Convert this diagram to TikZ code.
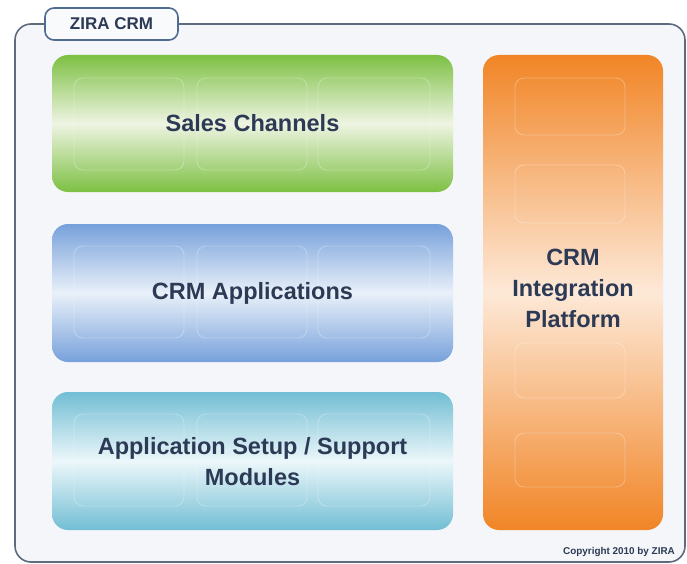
\documentclass[tikz,border=0pt]{standalone}
\usepackage{fontspec}
\setmainfont{Liberation Sans}
\begin{document}
\begin{tikzpicture}[x=1pt,y=-1pt,
  panel/.style={rounded corners=16pt, inner sep=0pt, align=center,
    font=\fontsize{23.5}{31}\selectfont\bfseries, text=labelink},
  cell/.style={draw=white, draw opacity=0.28, line width=0.9pt, rounded corners=9pt},
  frame/.style={draw=framegray, line width=1.6pt, rounded corners=16pt, fill=framebg},
  tab/.style={draw=tabblue, line width=1.6pt, rounded corners=9pt, fill=tabfill,
    minimum width=133pt, minimum height=32pt, inner sep=0pt,
    font=\fontsize{17}{20}\selectfont\bfseries, text=labelink}]
\definecolor{labelink}{HTML}{2C3A55}
\definecolor{framegray}{HTML}{5E6B7E}
\definecolor{framebg}{HTML}{F4F6F9}
\definecolor{tabblue}{HTML}{4F6B90}
\definecolor{tabfill}{HTML}{F9FAFC}
\definecolor{greenedge}{HTML}{7DC043}
\definecolor{greenmid}{HTML}{EEF4E2}
\definecolor{blueedge}{HTML}{77A1DB}
\definecolor{bluemid}{HTML}{E9F0F9}
\definecolor{tealedge}{HTML}{72BED4}
\definecolor{tealmid}{HTML}{ECF7FA}
\definecolor{orangeedge}{HTML}{F18526}
\definecolor{orangemid}{HTML}{FDE9D8}

\useasboundingbox (0,0) rectangle (687,564);

% outer frame and its title tab
\path[frame] (15,24) rectangle (685,562);
\node[tab] (title) at (111.5,24) {ZIRA CRM};

% layer panels (middle color must follow top and bottom color)
\node[panel, top color=greenedge, bottom color=greenedge, middle color=greenmid,
  minimum width=401pt, minimum height=137pt] (sales) at (252.5,123.5) {};
\node[panel, top color=blueedge, bottom color=blueedge, middle color=bluemid,
  minimum width=401pt, minimum height=138pt] (apps) at (252.5,293) {};
\node[panel, top color=tealedge, bottom color=tealedge, middle color=tealmid,
  minimum width=401pt, minimum height=138pt] (setup) at (252.5,461) {};
\node[panel, top color=orangeedge, bottom color=orangeedge, middle color=orangemid,
  minimum width=180pt, minimum height=475pt] (integ) at (573,292.5) {};

% faint module cells inside the horizontal panels
\foreach \y/\h in {78/170, 246/338, 414/506} {
  \draw[cell] (74,\y) rectangle (184,\h);
  \draw[cell] (197,\y) rectangle (307,\h);
  \draw[cell] (318,\y) rectangle (430,\h);
}
% faint module cells inside the integration column
\foreach \y/\h in {78/135, 165/223, 343/398, 433/487} {
  \draw[cell] (515,\y) rectangle (625,\h);
}

% panel captions
\node[panel] (salesT) at (sales.center) {Sales Channels};
\node[panel] (appsT) at (apps.center) {CRM Applications};
\node[panel] (setupT) at (252.5,462) {Application Setup / Support\\Modules};
\node[panel] (integT) at (573,288) {CRM\\Integration\\Platform};

% copyright line
\node[font=\fontsize{9.9}{11}\selectfont\bfseries, text=labelink, inner sep=0pt]
  (copy) at (619,552) {Copyright 2010 by ZIRA};
\end{tikzpicture}
\end{document}
